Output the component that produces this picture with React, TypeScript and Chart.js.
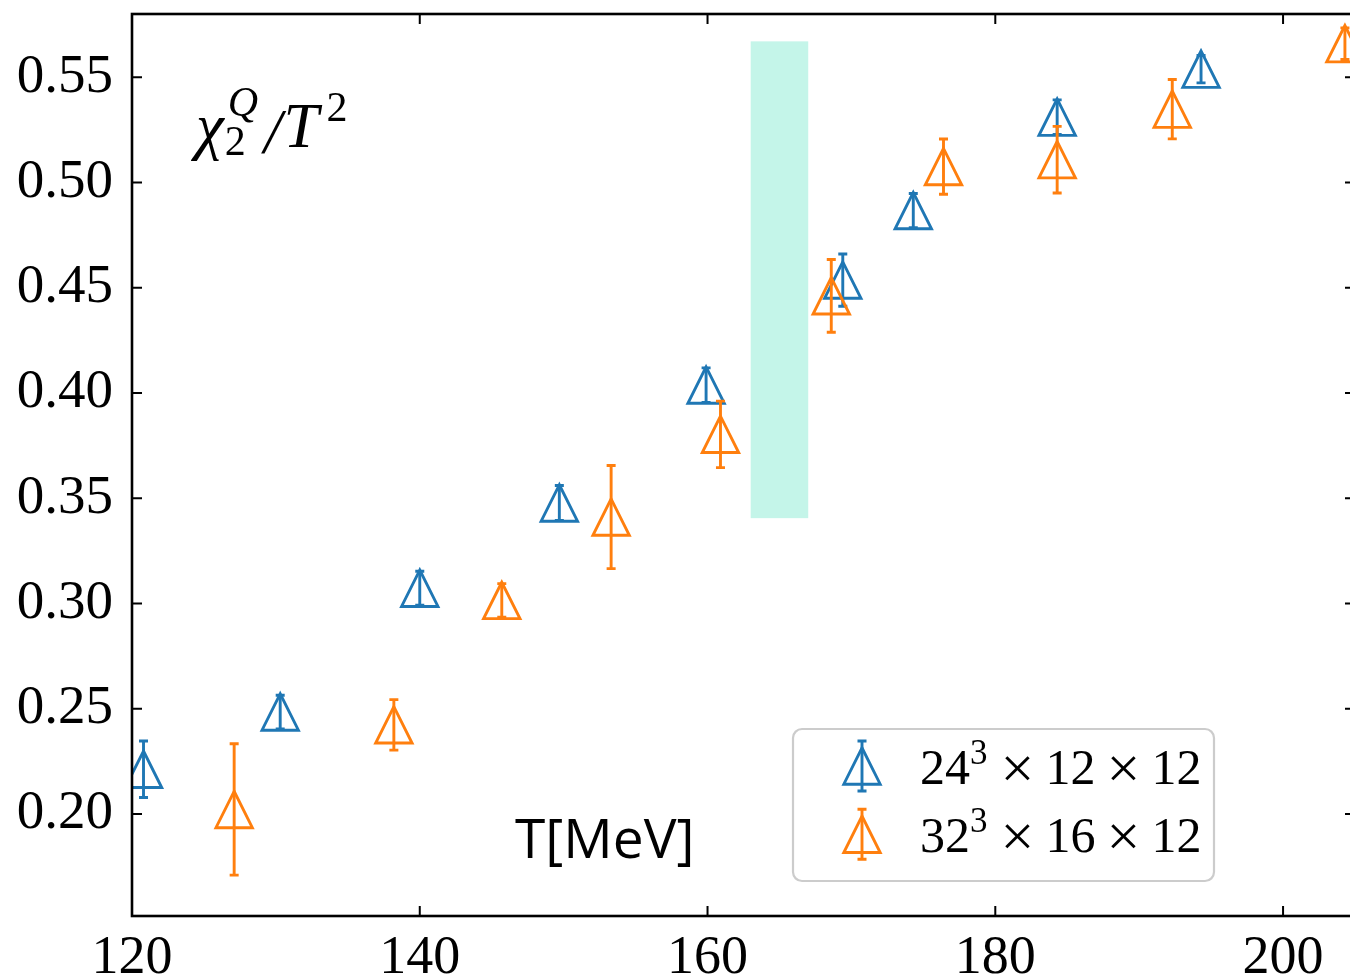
import React, { useEffect, useRef } from 'react';
import { Chart, registerables } from 'chart.js';

Chart.register(...registerables);

// ---------- data ----------
const X_TICKS = [120, 140, 160, 180, 200];
const Y_TICKS = [0.2, 0.25, 0.3, 0.35, 0.4, 0.45, 0.5, 0.55];
const X_RANGE = [120, 205];
const Y_RANGE = [0.1515, 0.58];

const LABEL_24 = ['24', '3', '12', '12'];
const T_24 = [120.8, 130.3, 140.0, 149.7, 159.9, 169.4, 174.3, 184.3, 194.3];
const CHI_24 = [0.2212, 0.2484, 0.3072, 0.3477, 0.4037, 0.4536, 0.4866, 0.531, 0.5538];
const ERR_24 = [0.0134, 0.008, 0.0081, 0.0083, 0.0082, 0.0124, 0.0081, 0.0082, 0.0065];

const LABEL_32 = ['32', '3', '16', '12'];
const T_32 = [127.1, 138.2, 145.7, 153.3, 160.9, 168.6, 176.4, 184.3, 192.3, 204.3];
const CHI_32 = [0.2021, 0.2423, 0.3014, 0.341, 0.3803, 0.4461, 0.5075, 0.5108, 0.5348, 0.5659];
const ERR_32 = [0.0312, 0.012, 0.008, 0.0245, 0.0158, 0.0173, 0.0131, 0.0158, 0.0141, 0.0075];

const BAND_T = [163, 167];
const BAND_CHI = [0.3405, 0.567];

// ---------- style ----------
const BLUE = '#1f77b4';
const ORANGE = '#ff7f0e';
const BAND_COLOR = '#c4f5e9';
const SERIF = '"Liberation Serif", "DejaVu Serif", serif';
const CANVAS_W = 1360;
const CANVAS_H = 976;
const MARKER = 18.2;
const CAP = 4.5;
const LW = 2.9;

function drawTriangle(ctx: CanvasRenderingContext2D, x: number, y: number, s: number) {
  ctx.beginPath();
  ctx.moveTo(x, y - s);
  ctx.lineTo(x - s, y + s);
  ctx.lineTo(x + s, y + s);
  ctx.closePath();
  ctx.stroke();
}

function drawErrorBar(ctx: CanvasRenderingContext2D, x: number, yt: number, yb: number) {
  ctx.beginPath();
  ctx.moveTo(x, yt);
  ctx.lineTo(x, yb);
  ctx.moveTo(x - CAP, yt);
  ctx.lineTo(x + CAP, yt);
  ctx.moveTo(x - CAP, yb);
  ctx.lineTo(x + CAP, yb);
  ctx.stroke();
}

const customDraw = {
  id: 'customDraw',
  beforeDatasetsDraw(chart: any) {
    const { ctx, chartArea: a, scales } = chart;
    const xs = scales.x;
    const ys = scales.y;
    ctx.save();
    ctx.beginPath();
    ctx.rect(a.left, a.top, a.right - a.left, a.bottom - a.top);
    ctx.clip();
    const x0 = xs.getPixelForValue(BAND_T[0]);
    const x1 = xs.getPixelForValue(BAND_T[1]);
    const y0 = ys.getPixelForValue(BAND_CHI[1]);
    const y1 = ys.getPixelForValue(BAND_CHI[0]);
    ctx.fillStyle = BAND_COLOR;
    ctx.fillRect(x0, y0, x1 - x0, y1 - y0);
    ctx.restore();
  },
  afterDatasetsDraw(chart: any) {
    const { ctx, chartArea: a, scales } = chart;
    const ys = scales.y;
    ctx.save();
    ctx.beginPath();
    ctx.rect(a.left, a.top, a.right - a.left, a.bottom - a.top);
    ctx.clip();
    ctx.lineWidth = LW;
    ctx.lineJoin = 'miter';
    ctx.lineCap = 'butt';
    chart.data.datasets.forEach((ds: any, i: number) => {
      const meta = chart.getDatasetMeta(i);
      ctx.strokeStyle = ds.borderColor;
      meta.data.forEach((el: any, j: number) => {
        const v = ds.data[j].y;
        const e = ds.errors[j];
        const yt = ys.getPixelForValue(v + e);
        const yb = ys.getPixelForValue(v - e);
        drawErrorBar(ctx, el.x, yt, yb);
        drawTriangle(ctx, el.x, el.y, MARKER);
      });
    });
    ctx.restore();
  },
  afterDraw(chart: any) {
    const { ctx, chartArea: a, scales } = chart;
    const xs = scales.x;
    const ys = scales.y;
    ctx.save();
    // frame
    ctx.strokeStyle = '#000';
    ctx.lineWidth = 2.6;
    ctx.strokeRect(a.left, a.top, a.right - a.left, a.bottom - a.top);
    // inward ticks
    ctx.lineWidth = 2;
    const TL = 10;
    ctx.beginPath();
    X_TICKS.forEach((t) => {
      const px = xs.getPixelForValue(t);
      ctx.moveTo(px, a.bottom);
      ctx.lineTo(px, a.bottom - TL);
      ctx.moveTo(px, a.top);
      ctx.lineTo(px, a.top + TL);
    });
    Y_TICKS.forEach((t) => {
      const py = ys.getPixelForValue(t);
      ctx.moveTo(a.left, py);
      ctx.lineTo(a.left + TL, py);
      ctx.moveTo(a.right, py);
      ctx.lineTo(a.right - TL, py);
    });
    ctx.stroke();

    // y label: chi_2^Q / T^2
    ctx.fillStyle = '#000';
    ctx.textBaseline = 'alphabetic';
    ctx.textAlign = 'left';
    const big = 63;
    const small = 42;
    let cx = a.left + 64;
    const base = a.top + 133;
    ctx.font = `italic ${big}px ${SERIF}`;
    ctx.fillText('χ', cx, base);
    cx += ctx.measureText('χ').width + 1;
    ctx.font = `${small}px ${SERIF}`;
    ctx.fillText('2', cx, base + 8);
    const w2 = ctx.measureText('2').width;
    ctx.font = `italic ${small}px ${SERIF}`;
    ctx.fillText('Q', cx + 3, base - 31);
    const wq = ctx.measureText('Q').width + 3;
    cx += Math.max(w2, wq) + 6;
    ctx.font = `italic ${big}px ${SERIF}`;
    ctx.fillText('/', cx, base + 6);
    cx += ctx.measureText('/').width + 2;
    ctx.fillText('T', cx, base);
    cx += ctx.measureText('T').width + 8;
    ctx.font = `${small}px ${SERIF}`;
    ctx.fillText('2', cx, base - 26);

    // x label inside the plot
    ctx.font = `55px "Open Sans", "Noto Sans", sans-serif`;
    ctx.fillText('T[MeV]', a.left + 383, a.bottom - 58);

    // legend
    const lx = a.right - 562;
    const ly = a.bottom - 187;
    const lw = 421;
    const lh = 152;
    ctx.beginPath();
    (ctx as any).roundRect(lx, ly, lw, lh, 9);
    ctx.fillStyle = 'rgba(255,255,255,0.8)';
    ctx.fill();
    ctx.strokeStyle = '#cccccc';
    ctx.lineWidth = 2.2;
    ctx.stroke();

    const rows = [
      { color: BLUE, label: LABEL_24 },
      { color: ORANGE, label: LABEL_32 },
    ];
    rows.forEach((r, k) => {
      const cyRow = ly + 37 + k * 68.3;
      const mx = lx + 69;
      ctx.strokeStyle = r.color;
      ctx.lineWidth = LW;
      ctx.lineJoin = 'miter';
      drawErrorBar(ctx, mx, cyRow - 25, cyRow + 25);
      drawTriangle(ctx, mx, cyRow, MARKER);

      ctx.fillStyle = '#000';
      const tb = cyRow + 17.6;
      let tx = lx + 127;
      const fs = 50;
      const xfs = 60;
      const slot = 56;
      ctx.textAlign = 'left';
      ctx.font = `${fs}px ${SERIF}`;
      ctx.fillText(r.label[0], tx, tb);
      tx += ctx.measureText(r.label[0]).width;
      ctx.font = `${Math.round(fs * 0.7)}px ${SERIF}`;
      ctx.fillText(r.label[1], tx, tb - 20);
      tx += ctx.measureText(r.label[1]).width + 2;
      ctx.textAlign = 'center';
      ctx.font = `${xfs}px ${SERIF}`;
      ctx.fillText('×', tx + slot / 2, tb + 4);
      tx += slot;
      ctx.textAlign = 'left';
      ctx.font = `${fs}px ${SERIF}`;
      ctx.fillText(r.label[2], tx, tb);
      tx += ctx.measureText(r.label[2]).width;
      ctx.textAlign = 'center';
      ctx.font = `${xfs}px ${SERIF}`;
      ctx.fillText('×', tx + slot / 2, tb + 4);
      tx += slot;
      ctx.textAlign = 'left';
      ctx.font = `${fs}px ${SERIF}`;
      ctx.fillText(r.label[3], tx, tb);
    });
    ctx.restore();
  },
};

export default function App() {
  const ref = useRef<HTMLCanvasElement | null>(null);

  useEffect(() => {
    if (!ref.current) return;
    const chart = new Chart(ref.current, {
      type: 'scatter',
      data: {
        datasets: [
          {
            label: '24^3 x 12 x 12',
            data: T_24.map((t, i) => ({ x: t, y: CHI_24[i] })),
            errors: ERR_24,
            borderColor: BLUE,
            backgroundColor: BLUE,
            pointRadius: 0,
            showLine: false,
          } as any,
          {
            label: '32^3 x 16 x 12',
            data: T_32.map((t, i) => ({ x: t, y: CHI_32[i] })),
            errors: ERR_32,
            borderColor: ORANGE,
            backgroundColor: ORANGE,
            pointRadius: 0,
            showLine: false,
          } as any,
        ],
      },
      options: {
        responsive: false,
        animation: false,
        events: [],
        layout: { padding: { top: 14, right: CANVAS_W - 1355, left: 0, bottom: 0 } },
        plugins: {
          legend: { display: false },
          tooltip: { enabled: false },
          title: { display: false },
        },
        scales: {
          x: {
            type: 'linear',
            min: X_RANGE[0],
            max: X_RANGE[1],
            grid: { display: false },
            border: { display: false },
            ticks: {
              color: '#000',
              padding: 2,
              font: { family: SERIF, size: 54 },
              maxRotation: 0,
              callback: (v: any) => String(v),
            },
            afterBuildTicks: (s: any) => {
              s.ticks = X_TICKS.map((v) => ({ value: v }));
            },
            afterFit: (s: any) => {
              s.height = 60;
              s.paddingLeft = 0;
              s.paddingRight = 0;
            },
          },
          y: {
            type: 'linear',
            min: Y_RANGE[0],
            max: Y_RANGE[1],
            grid: { display: false },
            border: { display: false },
            ticks: {
              color: '#000',
              padding: 11,
              font: { family: SERIF, size: 55 },
              callback: (v: any) => Number(v).toFixed(2),
            },
            afterBuildTicks: (s: any) => {
              s.ticks = Y_TICKS.map((v) => ({ value: v }));
            },
            afterFit: (s: any) => {
              s.width = 132;
              s.paddingTop = 0;
              s.paddingBottom = 0;
            },
          },
        },
      } as any,
      plugins: [customDraw],
    });
    return () => chart.destroy();
  }, []);

  return (
    <div
      style={{
        position: 'absolute',
        left: 0,
        top: 0,
        width: 1350,
        height: 976,
        overflow: 'hidden',
        background: '#fff',
      }}
    >
      <canvas
        ref={ref}
        width={CANVAS_W}
        height={CANVAS_H}
        style={{ width: CANVAS_W, height: CANVAS_H, display: 'block' }}
      />
    </div>
  );
}
